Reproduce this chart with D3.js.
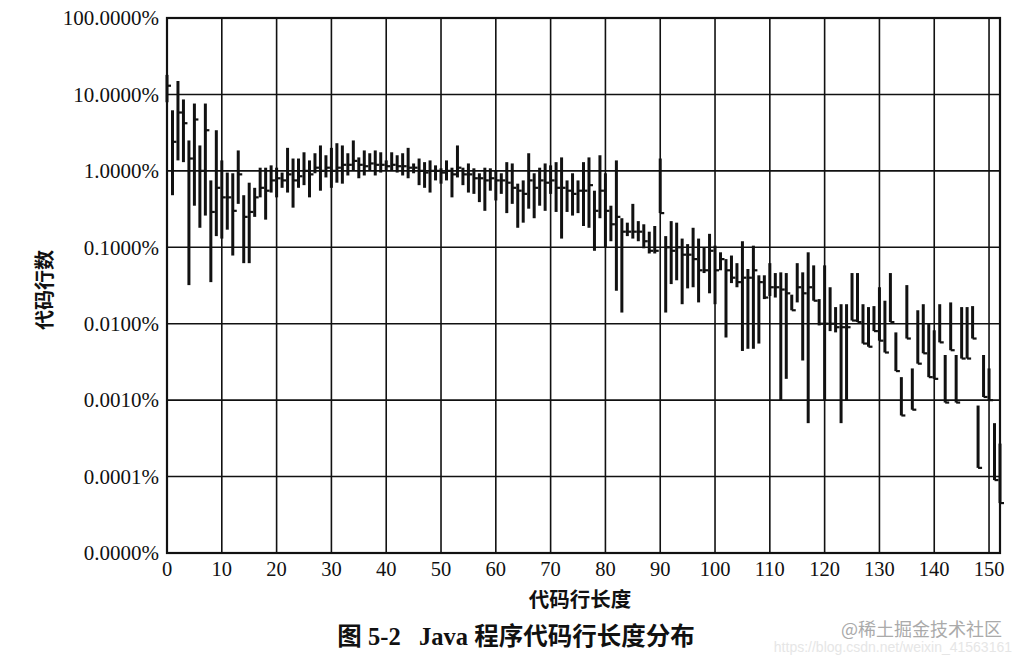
<!DOCTYPE html>
<html><head><meta charset="utf-8">
<script src="https://cdn.jsdelivr.net/npm/d3@7"></script>
<style>body{margin:0;background:#fff}svg{display:block}</style>
</head><body>
<svg id="c" width="1020" height="659"></svg>
<script>
// line length 0..152 ; values in percent of lines
const highs = [18,6.2,15,8.6,2.5,7.6,2.15,7.6,0.75,3.4,
1.37,0.95,0.93,1.85,0.48,0.7,0.6,1.1,1.1,1.18,
1.1,0.95,2.0,1.45,1.45,1.75,1.37,1.7,2.15,1.6,
2.0,2.3,2.15,1.7,2.5,1.5,1.85,1.7,1.85,1.75,
1.37,1.75,1.6,1.7,2.0,1.25,1.45,1.3,1.37,1.18,
1.08,1.37,1.1,2.15,1.1,1.25,1.08,0.93,1.1,1.08,
1.0,0.93,1.3,1.25,0.68,0.75,1.7,0.93,1.1,1.25,
1.18,1.3,1.5,0.75,0.93,0.75,1.3,1.5,0.55,1.6,
0.93,0.35,1.37,0.24,0.21,0.37,0.22,0.2,0.16,0.19,
1.45,0.14,0.22,0.21,0.13,0.11,0.18,0.13,0.1,0.15,
0.105,0.086,0.07,0.078,0.062,0.12,0.052,0.105,0.043,0.043,
0.062,0.046,0.047,0.046,0.024,0.062,0.047,0.086,0.058,0.021,
0.058,0.03,0.0165,0.018,0.018,0.046,0.046,0.018,0.0165,0.017,
0.03,0.02,0.046,0.0077,0.002,0.032,0.0026,0.015,0.018,0.01,
0.0082,0.018,0.0039,0.019,0.0039,0.0165,0.0165,0.017,0.00085,0.0039,
0.0026,0.0005,0.00027];
const lows = [7.9,0.48,1.37,1.3,0.032,0.35,0.18,0.26,0.035,0.14,
0.13,0.17,0.078,0.37,0.062,0.062,0.25,0.45,0.23,0.52,
0.45,0.6,0.52,0.33,0.6,0.65,0.45,0.93,0.55,0.82,
0.6,0.7,0.68,0.87,1.0,0.8,0.87,1.0,0.87,0.95,
1.0,1.0,0.95,0.87,0.8,0.93,0.65,0.6,0.52,0.75,
0.68,0.75,0.45,0.82,0.65,0.52,0.5,0.39,0.3,0.55,
0.41,0.5,0.28,0.37,0.18,0.21,0.32,0.24,0.35,0.3,
0.5,0.29,0.13,0.29,0.26,0.28,0.19,0.18,0.09,0.24,
0.1,0.12,0.027,0.014,0.14,0.13,0.12,0.097,0.083,0.083,
0.28,0.014,0.033,0.037,0.018,0.029,0.03,0.019,0.046,0.025,
0.018,0.05,0.0066,0.034,0.03,0.0044,0.0047,0.0047,0.0055,0.021,
0.023,0.022,0.001,0.0019,0.015,0.019,0.0033,0.0005,0.02,0.0095,
0.001,0.008,0.0077,0.0005,0.001,0.011,0.0105,0.0055,0.005,0.008,
0.006,0.0042,0.0105,0.0024,0.00063,0.0064,0.00075,0.003,0.0041,0.002,
0.0019,0.0057,0.00093,0.0045,0.00093,0.0035,0.0035,0.0064,0.00013,0.0011,
0.001,0.00009,0.000045];
const closes = [13,2.4,5.8,4.2,1.45,4.7,1.0,3.4,0.29,0.6,
0.45,0.45,0.3,0.9,0.25,0.29,0.45,0.6,0.55,0.75,
0.8,0.75,0.9,0.75,0.85,1.0,0.9,1.1,1.0,1.1,
1.0,1.1,1.2,1.2,1.35,1.2,1.15,1.25,1.2,1.2,
1.15,1.2,1.15,1.15,1.1,1.1,1.0,0.95,1.0,1.0,
0.95,1.0,0.9,1.1,0.9,0.9,0.8,0.8,0.75,0.8,
0.75,0.75,0.7,0.6,0.55,0.5,0.75,0.6,0.75,0.7,
0.75,0.6,0.6,0.55,0.5,0.55,0.55,0.65,0.3,0.55,
0.3,0.2,0.25,0.16,0.16,0.16,0.16,0.12,0.09,0.09,
0.28,0.1,0.09,0.1,0.08,0.08,0.07,0.05,0.05,0.09,
0.05,0.07,0.05,0.04,0.035,0.04,0.04,0.05,0.035,0.022,
0.03,0.03,0.028,0.025,0.015,0.03,0.025,0.03,0.02,0.01,
0.01,0.01,0.009,0.009,0.009,0.011,0.0105,0.0055,0.005,0.008,
0.006,0.0042,0.0105,0.0024,0.00063,0.0064,0.00075,0.003,0.0041,0.002,
0.0019,0.0057,0.00093,0.0045,0.00093,0.0035,0.0035,0.0064,0.00013,0.0011,
0.001,0.00009,0.000045];
const xTicks = [0,10,20,30,40,50,60,70,80,90,100,110,120,130,140,150];
const yTicks = [100,10,1,0.1,0.01,0.001,0.0001,0.00001];
const yTickLabels = ["100.0000%","10.0000%","1.0000%","0.1000%","0.0100%","0.0010%","0.0001%","0.0000%"];
const xTitle = "代码行长度";
const yTitle = "代码行数";
const caption = "图 5-2   Java 程序代码行长度分布";

const svg = d3.select("#c");
const x = d3.scaleLinear().domain([0,152]).range([167,1000]);
const y = d3.scaleLog().domain([1e-5,100]).range([553,18]);
const ink = "#111";

// grid
svg.append("g").selectAll("line").data(yTicks).join("line")
  .attr("x1",167).attr("x2",1000).attr("y1",d=>y(d)).attr("y2",d=>y(d))
  .attr("stroke",ink).attr("stroke-width",1.6);
svg.append("g").selectAll("line").data(xTicks.slice(1)).join("line")
  .attr("y1",18).attr("y2",553).attr("x1",d=>x(d)).attr("x2",d=>x(d))
  .attr("stroke",ink).attr("stroke-width",1.6);
// frame
svg.append("rect").attr("x",167).attr("y",18).attr("width",833).attr("height",535)
  .attr("fill","none").attr("stroke",ink).attr("stroke-width",2.2);

// high-low bars
const idx = d3.range(highs.length);
svg.append("g").selectAll("line").data(idx).join("line")
  .attr("x1",i=>x(i)).attr("x2",i=>x(i))
  .attr("y1",i=>y(highs[i])).attr("y2",i=>y(lows[i]))
  .attr("stroke",ink).attr("stroke-width",3);
svg.append("g").selectAll("line").data(idx).join("line")
  .attr("x1",i=>x(i)).attr("x2",i=>x(i)+4)
  .attr("y1",i=>y(closes[i])).attr("y2",i=>y(closes[i]))
  .attr("stroke",ink).attr("stroke-width",2.2);

// y labels
svg.append("g").selectAll("text").data(yTicks).join("text")
  .attr("x",159).attr("y",d=>y(d)).attr("dy","0.35em")
  .attr("text-anchor","end").attr("font-family","Liberation Serif, serif")
  .attr("font-size",21).attr("fill",ink).text((d,i)=>yTickLabels[i]);
// x labels
svg.append("g").selectAll("text").data(xTicks).join("text")
  .attr("x",d=>x(d)).attr("y",576)
  .attr("text-anchor","middle").attr("font-family","Liberation Serif, serif")
  .attr("font-size",20.5).attr("fill",ink).text(d=>d);

svg.append("text").attr("x",580).attr("y",607).attr("text-anchor","middle")
  .attr("font-family","Noto Sans CJK SC").attr("font-weight",700)
  .attr("font-size",20.5).attr("fill",ink).text(xTitle);
svg.append("text").attr("transform","translate(52,290) rotate(-90)").attr("text-anchor","middle")
  .attr("font-family","Noto Sans CJK SC").attr("font-weight",700)
  .attr("font-size",20).attr("fill",ink).text(yTitle);
svg.append("text").attr("x",516).attr("y",645).attr("text-anchor","middle")
  .attr("font-family","Liberation Serif, Noto Sans CJK SC").attr("font-weight",700)
  .attr("font-size",24.5).attr("fill",ink).attr("xml:space","preserve").style("white-space","pre").text(caption);
// watermark
svg.append("text").attr("x",1012).attr("y",652).attr("text-anchor","end")
  .attr("font-family","Liberation Sans").attr("font-size",14).attr("fill","#e6e6e6")
  .text("https://blog.csdn.net/weixin_41563161");
svg.append("text").attr("x",1002).attr("y",636).attr("text-anchor","end")
  .attr("font-family","Noto Sans CJK SC").attr("font-size",18).attr("fill","#aaa")
  .text("@稀土掘金技术社区");
</script>
</body></html>
